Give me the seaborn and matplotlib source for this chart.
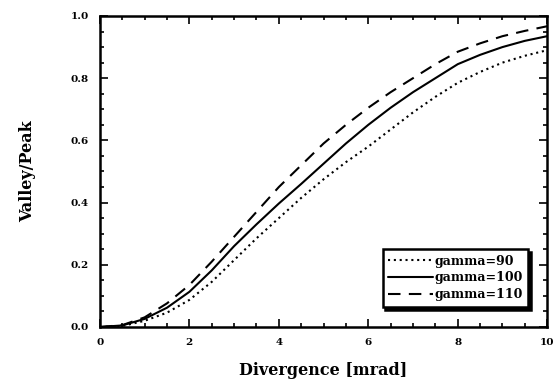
import numpy as np
import pandas as pd
import seaborn as sns
import matplotlib.pyplot as plt
from matplotlib.ticker import MultipleLocator, FormatStrFormatter

# values
divergence = [0.0, 0.5, 1.0, 1.5, 2.0, 2.5, 3.0, 3.5, 4.0, 4.5, 5.0, 5.5, 6.0, 6.5, 7.0, 7.5, 8.0, 8.5, 9.0, 9.5, 10.0]
gamma90 = [0.0, 0.003, 0.02, 0.046, 0.087, 0.145, 0.215, 0.285, 0.35, 0.415, 0.475, 0.53, 0.58, 0.635, 0.69, 0.74, 0.785, 0.82, 0.85, 0.872, 0.89]
gamma100 = [0.0, 0.005, 0.026, 0.062, 0.113, 0.182, 0.26, 0.33, 0.397, 0.46, 0.525, 0.59, 0.65, 0.705, 0.755, 0.80, 0.845, 0.875, 0.90, 0.92, 0.935]
gamma110 = [0.0, 0.006, 0.031, 0.076, 0.135, 0.21, 0.29, 0.37, 0.45, 0.52, 0.59, 0.65, 0.705, 0.755, 0.80, 0.845, 0.885, 0.912, 0.935, 0.952, 0.967]
labels = ['gamma=90', 'gamma=100', 'gamma=110']

sns.set_style('ticks')
plt.rcParams['font.family'] = ['DejaVu Serif']
plt.rcParams['font.weight'] = 'bold'
for k in ['text.color', 'axes.labelcolor', 'xtick.color', 'ytick.color', 'axes.edgecolor']:
    plt.rcParams[k] = 'black'

fig = plt.figure(figsize=(5.55, 3.8), dpi=100)
ax = fig.add_axes([0.180, 0.1395, 0.806, 0.8185])

styles = [(0, (1, 1.8)), '-', (0, (6, 4))]
for vals, lab, ls in zip([gamma90, gamma100, gamma110], labels, styles):
    df = pd.DataFrame({'x': divergence, 'y': vals})
    sns.lineplot(data=df, x='x', y='y', ax=ax, color='black', linewidth=1.5,
                 linestyle=ls, label=lab)

ax.set_xlim(0, 10)
ax.set_ylim(0, 1.0)
ax.xaxis.set_major_locator(MultipleLocator(2))
ax.xaxis.set_minor_locator(MultipleLocator(0.5))
ax.yaxis.set_major_locator(MultipleLocator(0.2))
ax.yaxis.set_minor_locator(MultipleLocator(0.05))
ax.xaxis.set_major_formatter(FormatStrFormatter('%d'))
ax.yaxis.set_major_formatter(FormatStrFormatter('%.1f'))
ax.tick_params(which='both', direction='in', top=True, right=True, width=1.2,
               labelsize=7.5, pad=8)
ax.tick_params(which='major', length=6)
ax.tick_params(which='minor', length=3)
for s in ax.spines.values():
    s.set_linewidth(1.8)

ax.set_xlabel('Divergence [mrad]', fontsize=11.5, fontweight='bold', labelpad=11)
ax.set_ylabel('Valley/Peak', fontsize=11.5, fontweight='bold', labelpad=25)

leg = ax.legend(loc='lower right', bbox_to_anchor=(0.972, 0.045), frameon=True,
                fancybox=False, shadow={'color': 'black', 'alpha': 1.0},
                edgecolor='black', framealpha=1, borderpad=0.45, handlelength=3.6,
                handletextpad=0.1, labelspacing=0.3, prop={'size': 9, 'weight': 'bold'})
leg.get_frame().set_linewidth(1.8)

fig.savefig('out.png', dpi=100)
